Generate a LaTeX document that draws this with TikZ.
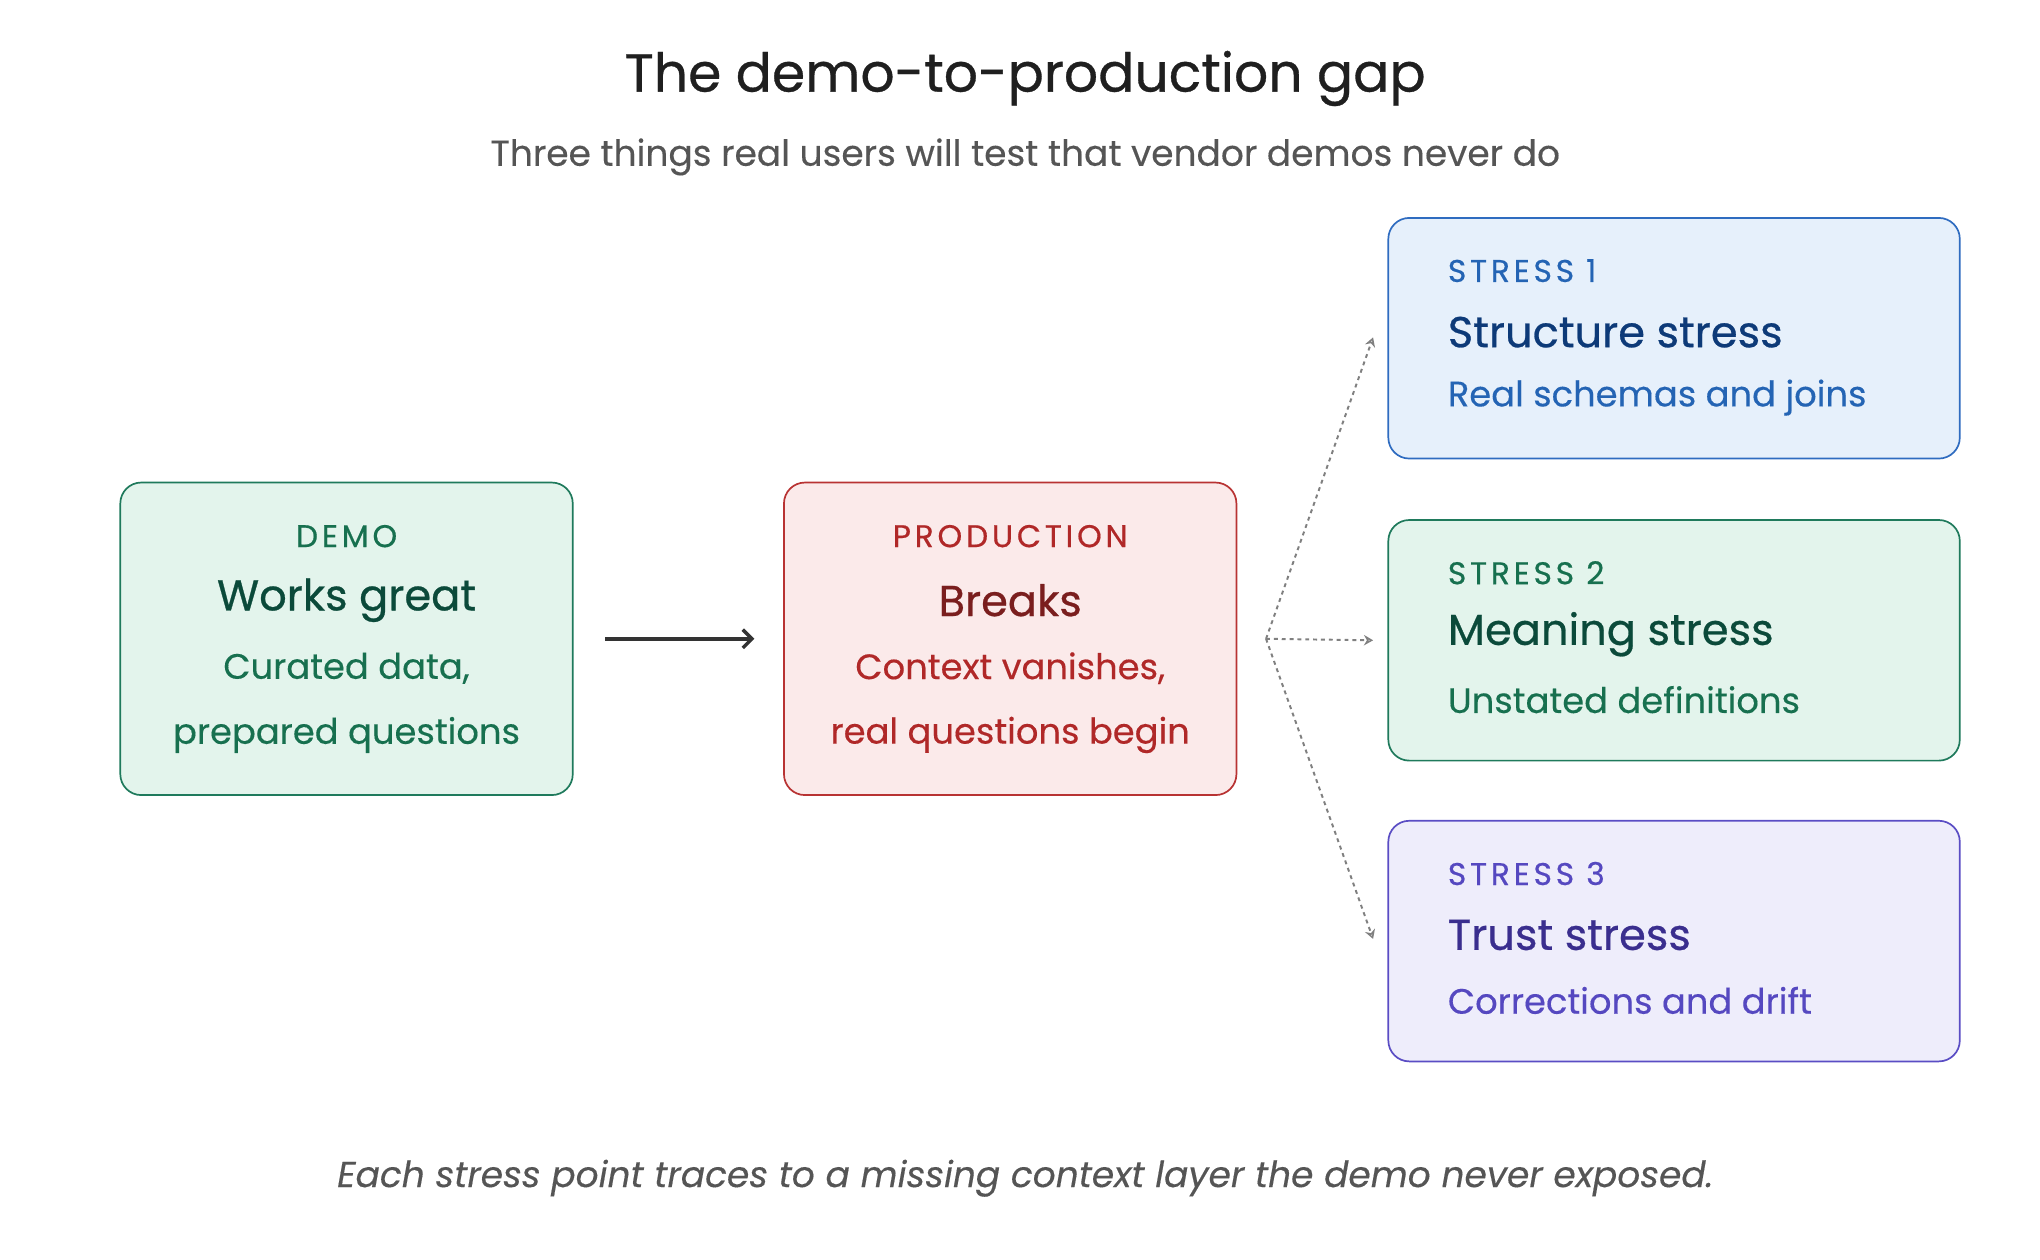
\documentclass[tikz,border=0pt]{standalone}
\usepackage{fontspec}
\setmainfont{Poppins}
\newfontfamily\spacedfont{Poppins}[LetterSpace=12,FakeBold=0.5]
\newfontfamily\midfont{Poppins}[FakeBold=0.6]
\usetikzlibrary{arrows.meta,positioning}
\definecolor{grnfill}{HTML}{E3F4EC}\definecolor{grnline}{HTML}{1F7A5C}
\definecolor{grndark}{HTML}{0B4A3A}\definecolor{grntext}{HTML}{17704F}
\definecolor{redfill}{HTML}{FBEAEA}\definecolor{redline}{HTML}{B83333}
\definecolor{reddark}{HTML}{7A1E1E}\definecolor{redtext}{HTML}{B02828}
\definecolor{bluefill}{HTML}{E6F0FB}\definecolor{blueline}{HTML}{2F6CC0}
\definecolor{bluedark}{HTML}{0D3A78}\definecolor{bluetext}{HTML}{2464B4}
\definecolor{purfill}{HTML}{EEEDFB}\definecolor{purline}{HTML}{5A4DC4}
\definecolor{purdark}{HTML}{3A2E8E}\definecolor{purtext}{HTML}{5548C0}
\definecolor{inkgray}{HTML}{555555}
\tikzset{
  box/.style={draw, line width=1.3pt, rounded corners=16pt, inner sep=0pt},
  kicker/.style={font=\spacedfont\fontsize{24}{28}\selectfont, inner sep=0pt},
  head/.style={font=\midfont\fontsize{33}{38}\selectfont, inner sep=0pt},
  sub/.style={font=\fontsize{27}{32}\selectfont\addfontfeatures{FakeBold=0.3}, inner sep=0pt},
  flow/.style={-{Stealth[open,length=7pt,width=8pt]}, gray, dashed, line width=1.5pt}
}
\begin{document}
\begin{tikzpicture}[x=1pt,y=-1pt]
\useasboundingbox (0,0) rectangle (1560,963);
% title
\node[font=\midfont\fontsize{41}{46}\selectfont, text=black!88] (title) at (784,60) {The demo-to-production gap};
\node[font=\fontsize{27.5}{32}\selectfont\addfontfeatures{FakeBold=0.3}, text=inkgray] (subtitle) at (784,120) {Three things real users will test that vendor demos never do};
% demo box
\node[box, draw=grnline, fill=grnfill, minimum width=346pt, minimum height=239pt] (demo) at (265,488.5) {};
\node[kicker, text=grntext] (demok) at (265,410) {DEMO};
\node[head, text=grndark] (demoh) at (265,459) {Works great};
\node[sub, text=grntext] (demos1) at (265,511) {Curated data,};
\node[sub, text=grntext] (demos2) at (265,562) {prepared questions};
% production box
\node[box, draw=redline, fill=redfill, minimum width=346pt, minimum height=239pt] (prod) at (772.5,488.5) {};
\node[kicker, text=redtext] (prodk) at (772.5,410) {PRODUCTION};
\node[head, text=reddark] (prodh) at (772.5,459) {Breaks};
\node[sub, text=redtext] (prods1) at (772.5,511) {Context vanishes,};
\node[sub, text=redtext] (prods2) at (772.5,562) {real questions begin};
% stress boxes
\foreach \n/\y/\fl/\ln/\dk/\tx/\hd/\sb in {
  1/166/bluefill/blueline/bluedark/bluetext/Structure stress/Real schemas and joins,
  2/397/grnfill/grnline/grndark/grntext/Meaning stress/Unstated definitions,
  3/627/purfill/purline/purdark/purtext/Trust stress/Corrections and drift}{
  \node[box, draw=\ln, fill=\fl, minimum width=437pt, minimum height=184pt, anchor=north west] (s\n) at (1061,\y) {};
  \node[kicker, text=\tx, anchor=west] (s\n k) at (1107,\y+41) {STRESS \n};
  \node[head, text=\dk, anchor=west] (s\n h) at (1107,\y+88) {\hd};
  \node[sub, text=\tx, anchor=west] (s\n s) at (1107,\y+138) {\sb};
}
% connectors
\draw[-{Straight Barb[length=7pt,width=14pt]}, line width=2.6pt, black!80] ([xshift=24pt]demo.east) -- ([xshift=-22pt]prod.west);
\coordinate (fork) at ([xshift=22pt]prod.east);
\draw[flow] (fork) -- ([shift={(-11pt,0pt)}]s1.west |- 0,258);
\draw[flow] (fork) -- ([xshift=-11pt]s2.west);
\draw[flow] (fork) -- ([shift={(-11pt,0pt)}]s3.west |- 0,718);
% footer
\node[font=\fontsize{27.5}{32}\selectfont\itshape\addfontfeatures{FakeBold=0.3}, text=inkgray] (footer) at (784,901) {Each stress point traces to a missing context layer the demo never exposed.};
\end{tikzpicture}
\end{document}
